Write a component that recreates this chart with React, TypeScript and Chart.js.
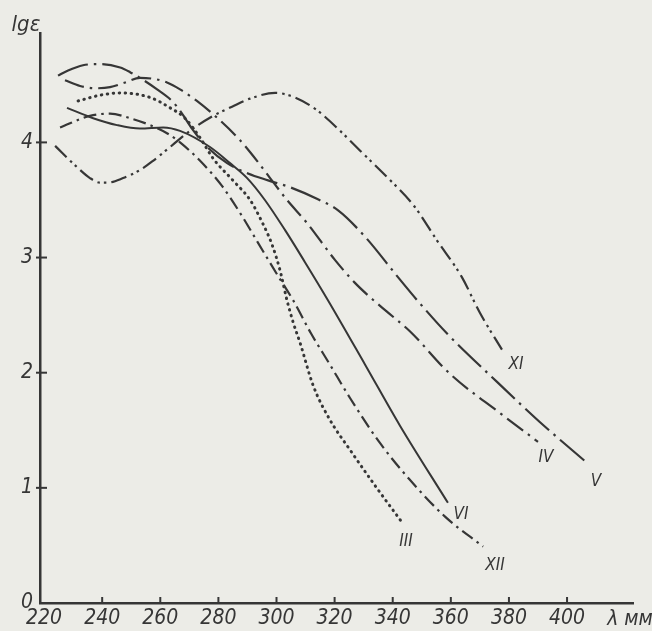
import React, { useEffect, useRef } from "react";
import { Chart, registerables } from "chart.js";

Chart.register(...registerables);

// ---- data ----
const X_TICKS = [220, 240, 260, 280, 300, 320, 340, 360, 380, 400];
const Y_TICKS = [0, 1, 2, 3, 4];
const X_UNIT = "λ мм";
const Y_TITLE = "lgε";

const III_WL = [231.7, 239.3, 246.2, 256.5, 263.4, 268.5, 273.7, 278.2, 285.0, 290.9, 295.0, 298.5, 301.2, 303.6, 305.7, 308.1, 312.6, 318.4, 325.3, 333.9, 343.5];
const III_LG = [4.36, 4.41, 4.43, 4.39, 4.30, 4.21, 4.04, 3.86, 3.67, 3.50, 3.31, 3.11, 2.89, 2.63, 2.44, 2.26, 1.89, 1.59, 1.33, 1.02, 0.69];

const IV_WL = [227.2, 232.4, 237.5, 242.7, 247.9, 253.0, 258.2, 262.3, 266.8, 272.6, 280.6, 287.4, 293.3, 297.8, 303.6, 310.5, 320.1, 327.0, 332.9, 338.0, 345.9, 359.7, 376.9, 390.0];
const IV_LG = [4.54, 4.49, 4.47, 4.48, 4.52, 4.56, 4.55, 4.52, 4.46, 4.36, 4.19, 4.02, 3.84, 3.69, 3.50, 3.30, 2.98, 2.78, 2.64, 2.53, 2.36, 1.99, 1.65, 1.40];

const V_WL = [224.8, 227.9, 233.4, 239.3, 246.2, 249.6, 253.0, 258.9, 264.4, 267.5, 270.9, 276.1, 283.0, 290.2, 297.1, 304.7, 313.9, 321.2, 330.5, 341.8, 348.4, 358.7, 375.9, 390.7, 407.2];
const V_LG = [4.58, 4.62, 4.67, 4.68, 4.65, 4.61, 4.56, 4.46, 4.35, 4.25, 4.12, 3.96, 3.82, 3.73, 3.67, 3.61, 3.51, 3.41, 3.18, 2.83, 2.63, 2.34, 1.92, 1.57, 1.21];

const VI_WL = [227.9, 236.9, 245.1, 253.0, 261.0, 266.8, 277.1, 284.0, 289.9, 296.0, 302.9, 309.8, 317.7, 330.5, 342.5, 359.0];
const VI_LG = [4.30, 4.21, 4.15, 4.12, 4.13, 4.10, 3.96, 3.82, 3.69, 3.50, 3.24, 2.96, 2.63, 2.07, 1.54, 0.87];

const XI_WL = [223.8, 230.7, 235.8, 239.3, 241.7, 247.2, 253.0, 257.5, 263.4, 270.2, 278.2, 284.7, 290.9, 299.5, 306.4, 313.9, 321.9, 328.7, 338.0, 347.3, 355.2, 363.8, 370.0, 377.6];
const XI_LG = [3.97, 3.80, 3.69, 3.65, 3.65, 3.69, 3.76, 3.84, 3.96, 4.10, 4.23, 4.31, 4.38, 4.43, 4.39, 4.28, 4.10, 3.93, 3.70, 3.45, 3.15, 2.83, 2.52, 2.20];

const XII_WL = [225.5, 235.8, 242.7, 249.6, 256.5, 262.3, 266.8, 273.7, 281.3, 287.4, 293.6, 299.8, 305.7, 311.9, 318.4, 325.3, 335.6, 345.9, 358.0, 371.1];
const XII_LG = [4.13, 4.23, 4.25, 4.21, 4.15, 4.08, 4.00, 3.84, 3.62, 3.39, 3.13, 2.87, 2.63, 2.34, 2.07, 1.78, 1.39, 1.07, 0.75, 0.49];

// ---- styling ----
const INK = "#363636";
const PAPER = "#ecece7";
const FONT = "'Liberation Sans Narrow', 'DejaVu Sans Condensed', 'Liberation Sans', sans-serif";

const SERIES = [
  { name: "III", wl: III_WL, lg: III_LG, dash: [0.5, 5.5], cap: "round", width: 3, off: [3, 18] },
  { name: "IV", wl: IV_WL, lg: IV_LG, dash: [20, 6, 2.5, 6], cap: "butt", width: 2.2, off: [8, 16] },
  { name: "V", wl: V_WL, lg: V_LG, dash: [32, 6, 2.5, 6], cap: "butt", width: 2.2, off: [8, 18] },
  { name: "VI", wl: VI_WL, lg: VI_LG, dash: [], cap: "butt", width: 2, off: [13, 12] },
  { name: "XI", wl: XI_WL, lg: XI_LG, dash: [16, 5, 2.5, 4, 2.5, 5], cap: "butt", width: 2.2, off: [14, 15] },
  { name: "XII", wl: XII_WL, lg: XII_LG, dash: [13, 5, 2.5, 5], cap: "butt", width: 2.2, off: [12, 19] },
];

const decorPlugin = {
  id: "decor",
  beforeDraw(chart: any) {
    const ctx = chart.ctx;
    ctx.save();
    ctx.fillStyle = PAPER;
    ctx.fillRect(0, 0, chart.width, chart.height);
    ctx.restore();
  },
  afterDraw(chart: any) {
    const ctx = chart.ctx;
    const xs = chart.scales.x;
    const ys = chart.scales.y;
    const area = chart.chartArea;
    ctx.save();
    ctx.strokeStyle = INK;
    ctx.lineWidth = 2;
    // inner tick marks
    Y_TICKS.slice(1).forEach((v) => {
      const y = ys.getPixelForValue(v);
      ctx.beginPath();
      ctx.moveTo(area.left - 4, y);
      ctx.lineTo(area.left + 7, y);
      ctx.stroke();
    });
    X_TICKS.slice(1).forEach((v) => {
      const x = xs.getPixelForValue(v);
      ctx.beginPath();
      ctx.moveTo(x, area.bottom);
      ctx.lineTo(x, area.bottom - 6);
      ctx.stroke();
    });
    ctx.fillStyle = INK;
    ctx.font = `italic 21px ${FONT}`;
    ctx.textBaseline = "middle";
    ctx.textAlign = "left";
    ctx.fillText(X_UNIT, xs.getPixelForValue(420) - 18, area.bottom + 17);
    ctx.font = `italic 22px ${FONT}`;
    ctx.textAlign = "center";
    ctx.fillText(Y_TITLE, area.left - 14, area.top - 8);
    // curve labels
    ctx.font = `italic 17px ${FONT}`;
    SERIES.forEach((s, i) => {
      const meta = chart.getDatasetMeta(i);
      const p = meta.data[meta.data.length - 1];
      ctx.fillText(s.name, p.x + s.off[0], p.y + s.off[1]);
    });
    ctx.restore();
  },
};

export default function App() {
  const ref = useRef<HTMLCanvasElement>(null);
  useEffect(() => {
    const datasets = SERIES.map((s) => ({
      label: s.name,
      data: s.wl.map((x, i) => ({ x, y: s.lg[i] })),
      borderColor: INK,
      borderWidth: s.width,
      borderDash: s.dash,
      borderCapStyle: s.cap,
      pointRadius: 0,
      cubicInterpolationMode: "monotone",
      fill: false,
    }));
    const chart = new Chart(ref.current as HTMLCanvasElement, {
      type: "line",
      data: { datasets } as any,
      plugins: [decorPlugin],
      options: {
        animation: false,
        responsive: false,
        devicePixelRatio: 1,
        layout: { padding: { top: 33, right: 19, left: 0, bottom: 0 } },
        plugins: { legend: { display: false }, tooltip: { enabled: false } },
        scales: {
          x: {
            type: "linear",
            min: 218.6,
            max: 422.7,
            afterBuildTicks: (s: any) => {
              s.ticks = X_TICKS.map((v) => ({ value: v }));
            },
            afterFit: (s: any) => {
              s.height = 28;
            },
            ticks: {
              autoSkip: false,
              maxRotation: 0,
              padding: 3,
              color: INK,
              font: { family: FONT, size: 21, style: "italic" },
              callback: (v: any) => String(v),
            },
            grid: { display: false, drawTicks: false },
            border: { display: true, color: INK, width: 2.5 },
          },
          y: {
            type: "linear",
            min: 0,
            max: 4.95,
            afterBuildTicks: (s: any) => {
              s.ticks = Y_TICKS.map((v) => ({ value: v }));
            },
            afterFit: (s: any) => {
              s.width = 40;
            },
            ticks: {
              padding: 7,
              color: INK,
              font: { family: FONT, size: 21, style: "italic" },
              callback: (v: any) => String(v),
            },
            grid: { display: false, drawTicks: false },
            border: { display: true, color: INK, width: 2.5 },
          },
        },
      } as any,
    });
    return () => chart.destroy();
  }, []);
  return (
    <div style={{ position: "fixed", left: 0, top: 0, width: 652, height: 631 }}>
      <canvas ref={ref} width={652} height={631} style={{ display: "block" }} />
    </div>
  );
}
